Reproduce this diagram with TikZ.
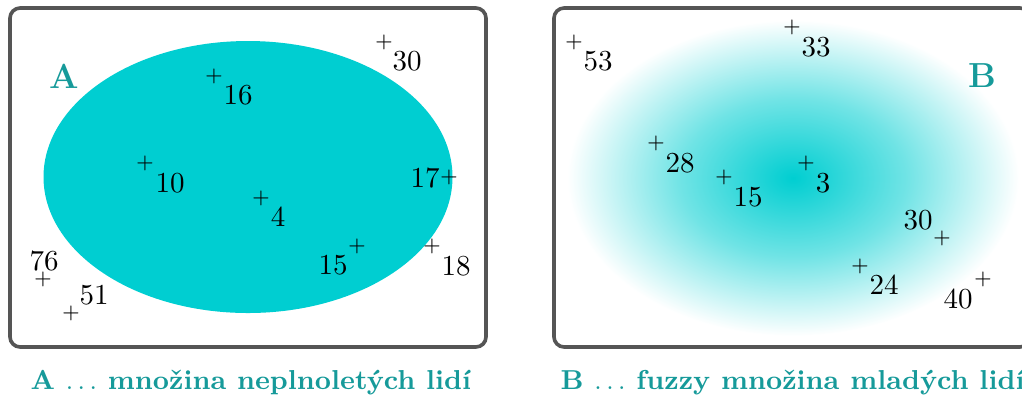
\documentclass[tikz,border=0pt]{standalone}
\usetikzlibrary{shapes.geometric}
\definecolor{fillcyan}{RGB}{0,206,209}
\definecolor{tealtext}{RGB}{22,154,154}
\definecolor{framegray}{RGB}{85,85,85}
\pgfdeclareradialshading{fuzzyset}{\pgfpoint{0bp}{0bp}}{%
  color(0bp)=(fillcyan);
  color(12.5bp)=(fillcyan!56!white);
  color(25bp)=(white);
  color(50bp)=(white)}
\begin{document}
\begin{tikzpicture}[x=0.345pt,y=-0.345pt,
  frame/.style={draw=framegray,line width=1.25pt,rounded corners=3.5pt},
  mk/.style={inner sep=0pt,font=\scriptsize},
  lbl/.style={inner sep=0pt},
  setname/.style={inner sep=0pt,text=tealtext,font=\large\bfseries},
  caption/.style={inner sep=0pt,text=tealtext,font=\fontsize{9.45}{11}\selectfont\bfseries,anchor=base west}]
\useasboundingbox (0,0) rectangle (1022,395);
\clip (0,0) rectangle (1022,395);
% left set
\fill[fillcyan] (248,177) ellipse [x radius=204.5, y radius=136];
\draw[frame] (10,8) rectangle (486,347);
\node[setname] (A) at (64,76) {A};
\node[mk] (p30) at (384,42) {$+$};  \node[lbl] (l30) at (407,61) {30};
\node[mk] (p16) at (214,76) {$+$};  \node[lbl] (l16) at (238,95) {16};
\node[mk] (p10) at (145,163) {$+$}; \node[lbl] (l10) at (170,183) {10};
\node[mk] (p4) at (261,198) {$+$};  \node[lbl] (l4) at (278,217) {4};
\node[mk] (p17) at (449,177) {$+$}; \node[lbl] (l17) at (425,178) {17};
\node[mk] (p15) at (357,246) {$+$}; \node[lbl] (l15) at (333,265) {15};
\node[mk] (p18) at (432,246) {$+$}; \node[lbl] (l18) at (456,266) {18};
\node[mk] (p76) at (43,279) {$+$};  \node[lbl] (l76) at (44,261) {76};
\node[mk] (p51) at (71,313) {$+$};  \node[lbl] (l51) at (94,295) {51};
% right set
\shade[shading=fuzzyset] (793,178) ellipse [x radius=226, y radius=158];
\draw[frame] (554,8) rectangle (1030,347);
\node[setname] (B) at (982,76) {B};
\node[mk] (q53) at (574,42) {$+$};  \node[lbl] (m53) at (598,61) {53};
\node[mk] (q33) at (792,27) {$+$};  \node[lbl] (m33) at (816,47) {33};
\node[mk] (q28) at (656,143) {$+$}; \node[lbl] (m28) at (680,163) {28};
\node[mk] (q15) at (724,177) {$+$}; \node[lbl] (m15) at (748,197) {15};
\node[mk] (q3) at (806,163) {$+$};  \node[lbl] (m3) at (823,183) {3};
\node[mk] (q30) at (942,238) {$+$}; \node[lbl] (m30) at (918,220) {30};
\node[mk] (q24) at (860,266) {$+$}; \node[lbl] (m24) at (884,285) {24};
\node[mk] (q40) at (983,279) {$+$}; \node[lbl] (m40) at (958,299) {40};
% captions
\node[caption] (capA) at (30,389) {A $\ldots$ množina neplnoletých lidí};
\node[caption] (capB) at (560,389) {B $\ldots$ fuzzy množina mladých lidí};
\end{tikzpicture}
\end{document}
